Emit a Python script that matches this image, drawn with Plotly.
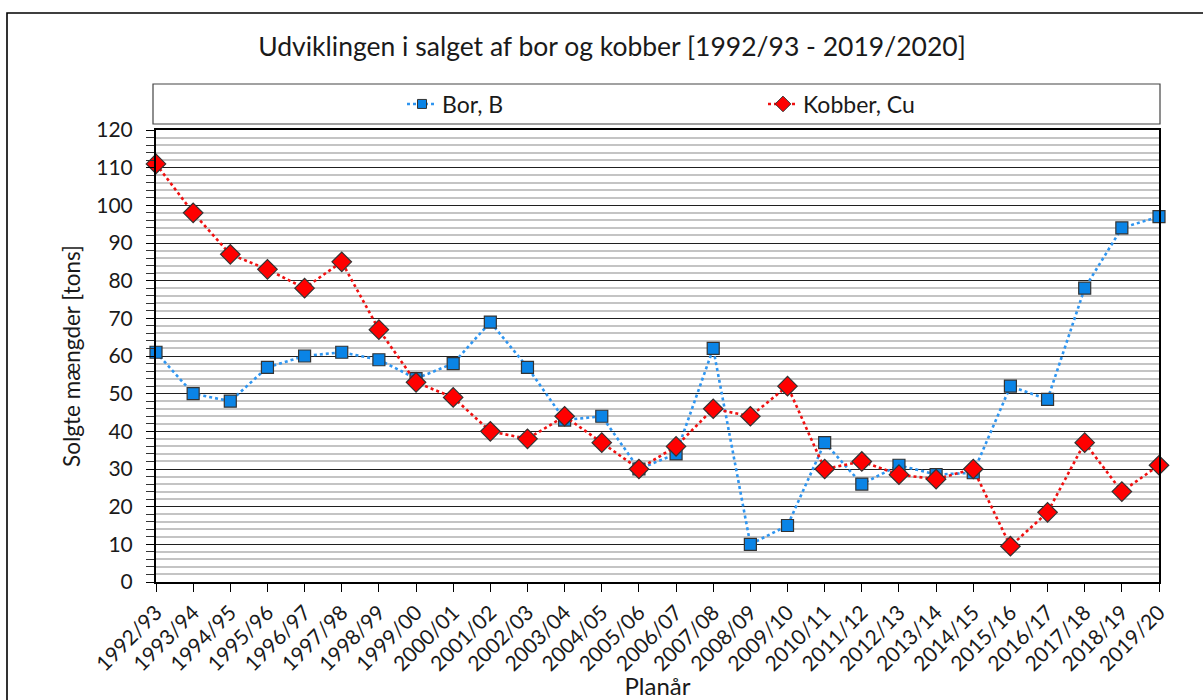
import plotly.graph_objects as go

categories = ["1992/93", "1993/94", "1994/95", "1995/96", "1996/97", "1997/98", "1998/99",
              "1999/00", "2000/01", "2001/02", "2002/03", "2003/04", "2004/05", "2005/06",
              "2006/07", "2007/08", "2008/09", "2009/10", "2010/11", "2011/12", "2012/13",
              "2013/14", "2014/15", "2015/16", "2016/17", "2017/18", "2018/19", "2019/20"]

bor = [61, 50, 48, 57, 60, 61, 59, 54, 58, 69, 57, 43, 44, 30, 34, 62, 10, 15, 37, 26,
       31, 28.5, 29, 52, 48.5, 78, 94, 97]

kobber = [111, 98, 87, 83, 78, 85, 67, 53, 49, 40, 38, 44, 37, 30, 36, 46, 44, 52, 30, 32,
          28.5, 27.3, 30, 9.5, 18.5, 37, 24, 31]

FONT = "Lato"
TXT = "#1a1a1a"

# plot area in pixels
L, R, T, B = 156, 1159, 130, 582
W, H = 1203, 700
pw, ph = R - L, B - T


def px_x(p):
    return (p - L) / pw


def px_y(p):
    return (B - p) / ph


BLUE_LINE, BLUE_FILL = "#2E95F0", "#0A84E6"
RED_LINE, RED_FILL = "#F01010", "#FF0000"
EDGE = "#333333"

fig = go.Figure()
fig.add_trace(go.Scatter(
    x=categories, y=bor, name="Bor, B", mode="lines+markers", showlegend=False,
    line=dict(color=BLUE_LINE, width=2.6, dash="dot"),
    marker=dict(symbol="square", size=12, color=BLUE_FILL, line=dict(color=EDGE, width=1.2)),
    cliponaxis=False,
))
fig.add_trace(go.Scatter(
    x=categories, y=kobber, name="Kobber, Cu", mode="lines+markers", showlegend=False,
    line=dict(color=RED_LINE, width=2.6, dash="dot"),
    marker=dict(symbol="diamond", size=15, color=RED_FILL, line=dict(color=EDGE, width=1.2)),
    cliponaxis=False,
))
# legend entries with the smaller legend symbols of the original
fig.add_trace(go.Scatter(
    x=[None], y=[None], name="Bor, B", mode="lines+markers",
    line=dict(color=BLUE_LINE, width=2.6, dash="dot"),
    marker=dict(symbol="square", size=9, color=BLUE_FILL, line=dict(color=EDGE, width=1)),
))
fig.add_trace(go.Scatter(
    x=[None], y=[None], name="Kobber, Cu", mode="lines+markers",
    line=dict(color=RED_LINE, width=2.6, dash="dot"),
    marker=dict(symbol="diamond", size=12, color=RED_FILL, line=dict(color=EDGE, width=1)),
))

shapes = [
    # outer chart frame
    dict(type="rect", xref="paper", yref="paper",
         x0=px_x(7), x1=px_x(1215), y0=px_y(715), y1=px_y(13),
         line=dict(color="black", width=1.6), fillcolor="rgba(0,0,0,0)", layer="below"),
    # legend box
    dict(type="rect", xref="paper", yref="paper",
         x0=px_x(153), x1=px_x(1160), y0=px_y(124), y1=px_y(84),
         line=dict(color="#444444", width=1.2), fillcolor="rgba(0,0,0,0)", layer="below"),
]

fig.update_layout(
    width=W, height=H,
    margin=dict(l=L, r=W - R, t=T, b=H - B, autoexpand=False),
    paper_bgcolor="white", plot_bgcolor="white",
    font=dict(family=FONT, color=TXT),
    title=dict(text="Udviklingen i salget af bor og kobber [1992/93 - 2019/2020]",
               x=(255 + 969) / 2 / W, xanchor="center", xref="container",
               y=1 - 47 / H, yanchor="middle", yref="container",
               font=dict(size=26.5, family=FONT, color=TXT)),
    showlegend=True,
    legend=dict(orientation="h", x=px_x(402), xanchor="left",
                y=px_y(104), yanchor="middle",
                font=dict(size=23, family=FONT, color=TXT),
                entrywidth=316, entrywidthmode="pixels",
                bgcolor="rgba(0,0,0,0)", borderwidth=0, itemclick=False),
    shapes=shapes,
)

fig.update_xaxes(
    type="category", range=[0, len(categories) - 1],
    tickangle=-45, tickfont=dict(size=21, family=FONT, color=TXT),
    ticks="outside", ticklen=8, tickcolor="black", tickwidth=1.3,
    showline=True, linecolor="black", linewidth=2, mirror=True,
    showgrid=False, zeroline=False,
    title=dict(text="Planår", font=dict(size=24, family=FONT, color=TXT), standoff=0),
)
fig.update_yaxes(
    range=[0, 120], dtick=10, tick0=0,
    tickfont=dict(size=21, family=FONT, color=TXT),
    ticks="outside", ticklen=8, tickcolor="black", tickwidth=1.3,
    ticklabelstandoff=9,
    showline=True, linecolor="black", linewidth=2, mirror=True,
    showgrid=True, gridcolor="#202020", gridwidth=1.3, zeroline=False,
    minor=dict(dtick=2, ticks="outside", ticklen=8, tickcolor="#333333", tickwidth=1,
               showgrid=True, gridcolor="#C4C4C4", gridwidth=1.6),
    title=dict(text="Solgte mængder [tons]", font=dict(size=22.5, family=FONT, color=TXT),
               standoff=9),
)

fig.write_html("out.html", config={"displayModeBar": False},
               post_script="document.body.style.margin='0';document.body.style.padding='0';")
